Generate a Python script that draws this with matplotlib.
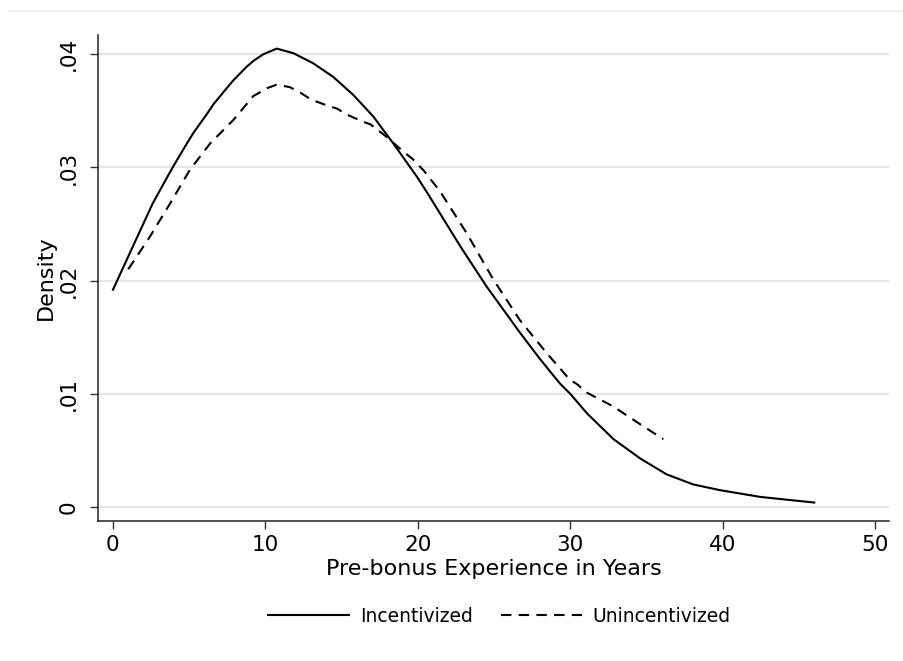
import matplotlib
matplotlib.use("Agg")
import matplotlib.pyplot as plt
from matplotlib.lines import Line2D

# kernel density curves
inc_x = [0.0, 1.3, 2.6, 3.5, 4.0, 4.84, 5.3, 6.15, 6.6, 7.46, 7.9, 8.77, 9.2, 9.86, 10.74,
         11.83, 13.14, 14.45, 15.77, 17.08, 18.4, 19.93, 20.6, 22.8, 24.5, 26.7, 28.0,
         28.9, 29.33, 30.0, 31.08, 32.83, 34.58, 36.3, 38.06, 39.8, 42.45, 46.0]
inc_y = [0.0192, 0.0230, 0.0268, 0.0290, 0.0302, 0.0321, 0.0331, 0.0347, 0.0356, 0.0370,
         0.0377, 0.0389, 0.0394, 0.0400, 0.0405, 0.0401, 0.0392, 0.0380, 0.0364, 0.0345,
         0.0321, 0.0292, 0.0278, 0.0230, 0.0195, 0.0154, 0.0131, 0.0116, 0.0109, 0.0100,
         0.0083, 0.0060, 0.0043, 0.0029, 0.0020, 0.0015, 0.0009, 0.0004]

uninc_x = [1.0, 2.43, 3.74, 5.05, 6.36, 7.9, 8.4, 9.2, 10.1, 10.7, 11.2, 11.6, 12.3, 13.0,
           13.4, 14.0, 14.7, 15.3, 15.8, 16.5, 16.9, 17.95, 19.05, 19.7, 20.4, 21.45, 23.2,
           24.95, 26.7, 28.45, 30.0, 30.4, 31.1, 32.8, 34.6, 36.1]
uninc_y = [0.0210, 0.0239, 0.0268, 0.0298, 0.0321, 0.0342, 0.0350, 0.0363, 0.0370, 0.0373,
           0.0372, 0.0371, 0.0366, 0.0360, 0.0358, 0.0355, 0.0352, 0.0347, 0.0344, 0.0340,
           0.0338, 0.0327, 0.0314, 0.0307, 0.0297, 0.0279, 0.0242, 0.0201, 0.0165, 0.0136,
           0.0112, 0.0109, 0.0101, 0.0089, 0.0073, 0.0060]

x_ticks = [0, 10, 20, 30, 40, 50]
y_ticks = [0, 0.01, 0.02, 0.03, 0.04]
y_labels = ["0", ".01", ".02", ".03", ".04"]

fig = plt.figure(figsize=(9.04, 6.61), dpi=100)
ax = fig.add_axes([0.1084, 0.2123, 0.875, 0.7347])

for y in y_ticks:
    ax.axhline(y, color="#e6e6e6", lw=1.5, zorder=0)

ax.plot(inc_x, inc_y, color="black", lw=1.5, label="Incentivized")
ax.plot(uninc_x, uninc_y, color="black", lw=1.5, ls=(0, (5, 3.5)), label="Unincentivized")

ax.set_xlim(-0.98, 50.9)
ax.set_ylim(-0.0012, 0.0417)
ax.set_xticks(x_ticks)
ax.set_yticks(y_ticks)
ax.set_yticklabels(y_labels, rotation=90, va="center")
ax.tick_params(axis="both", direction="out", length=6, width=1, color="#333333",
               labelsize=15.5)
ax.tick_params(axis="x", pad=4)
ax.tick_params(axis="y", pad=8)

for side in ["top", "right"]:
    ax.spines[side].set_visible(False)
for side in ["left", "bottom"]:
    ax.spines[side].set_linewidth(1.1)
    ax.spines[side].set_color("#222222")

ax.set_xlabel("Pre-bonus Experience in Years", fontsize=16, labelpad=3)
ax.set_ylabel("Density", fontsize=16, labelpad=2)

fig.legend(loc="center", bbox_to_anchor=(0.5525, 0.068), ncol=2, frameon=False,
           fontsize=13.5, handlelength=4.3, columnspacing=1.5, handletextpad=0.6)

# faint outline at the top of the graph region
fig.add_artist(Line2D([0.01, 1.0], [0.9834, 0.9834], color="#ececec", lw=1.2))

fig.savefig("out.png", dpi=100, facecolor="white")
